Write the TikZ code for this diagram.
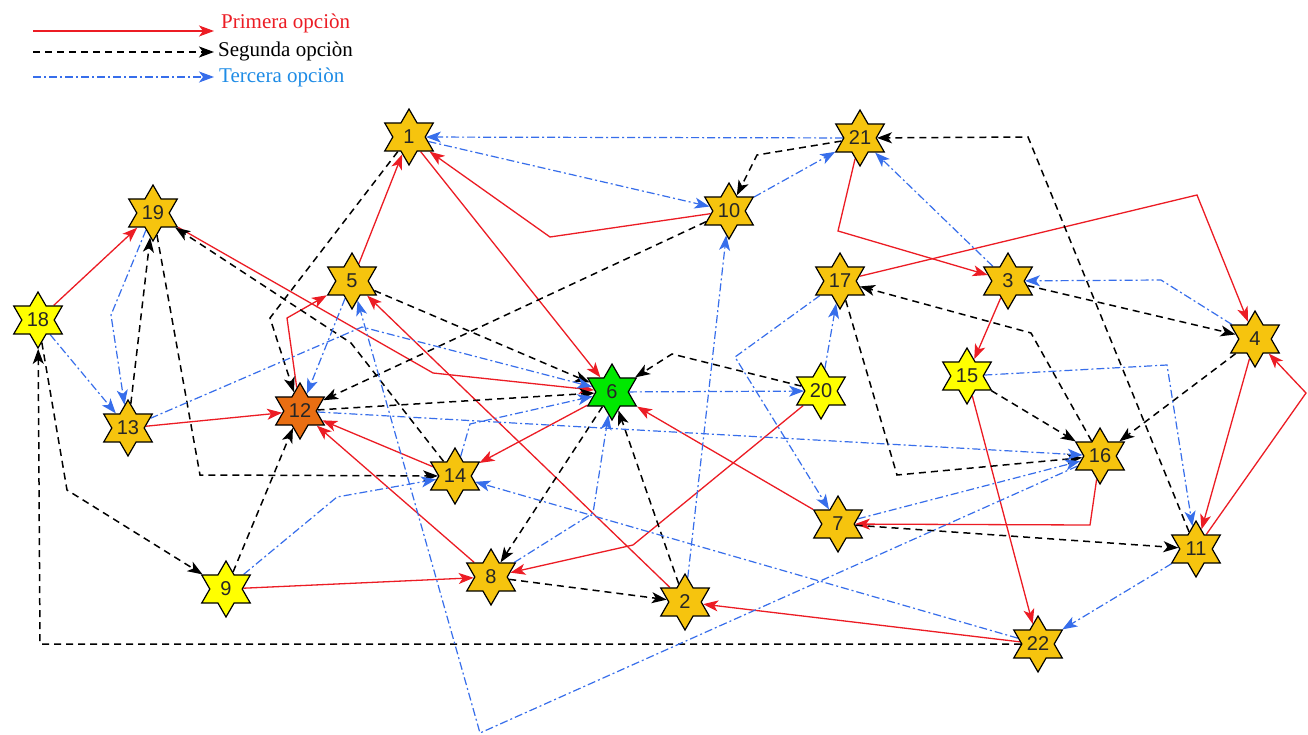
\documentclass[tikz,border=0pt]{standalone}
\usepackage{fontspec}
\setmainfont{Liberation Serif}
\newfontfamily\nodefont{Liberation Sans}
\usetikzlibrary{shapes.geometric,arrows.meta,backgrounds}
\definecolor{gold}{RGB}{246,196,14}
\definecolor{brightyel}{RGB}{255,255,0}
\definecolor{orng}{RGB}{233,110,18}
\definecolor{grn}{RGB}{0,232,0}
\definecolor{lred}{RGB}{236,28,36}
\definecolor{lblue}{RGB}{55,110,235}
\definecolor{tblue}{RGB}{30,140,230}
\tikzset{
  sn/.style={star, star points=6, star point ratio=1.73, draw=black, line width=1.2pt,
    minimum size=56pt, inner sep=0pt, font=\nodefont\fontsize{20}{24}\selectfont, text=black!85},
  sgold/.style={sn, fill=gold},
  syel/.style={sn, fill=brightyel},
  sorg/.style={sn, fill=orng},
  sgrn/.style={sn, fill=grn},
  tip/.style={-{Stealth[length=15pt,width=11pt,inset=4pt]}},
  e1/.style={tip, draw=lred, line width=1.3pt},
  e2/.style={tip, draw=black, line width=1.5pt, dash pattern=on 7pt off 5pt},
  e3/.style={tip, draw=lblue, line width=1.2pt, dash pattern=on 8pt off 3pt on 2pt off 3pt},
  lg/.style={anchor=west, inner sep=0pt, font=\fontsize{21}{25}\selectfont}
}
\begin{document}
\begin{tikzpicture}[x=1pt,y=-1pt]
\useasboundingbox (0,0) rectangle (1308,735);
% legend
\coordinate (la1) at (33,31); \coordinate (lb1) at (214,31);
\coordinate (la2) at (33,52); \coordinate (lb2) at (214,52);
\coordinate (la3) at (33,77); \coordinate (lb3) at (214,77);
\node[lg, text=lred] (t1) at (221,23) {Primera opciòn};
\node[lg, text=black] (t2) at (218,51) {Segunda opciòn};
\node[lg, text=tblue] (t3) at (219,77) {Tercera opciòn};
% nodes
\node[sgold] (n1) at (409,137) {1};
\node[sgold] (n19) at (153,213) {19};
\node[syel] (n18) at (38,320) {18};
\node[sgold] (n13) at (128,428) {13};
\node[sorg] (n12) at (300,411) {12};
\node[sgold] (n5) at (352,281) {5};
\node[sgrn] (n6) at (612,392) {6};
\node[sgold] (n10) at (729,211) {10};
\node[sgold] (n21) at (860,138) {21};
\node[sgold] (n17) at (840,281) {17};
\node[sgold] (n3) at (1008,281) {3};
\node[sgold] (n4) at (1255,339) {4};
\node[syel] (n15) at (967,376) {15};
\node[syel] (n20) at (821,391) {20};
\node[sgold] (n16) at (1100,456) {16};
\node[sgold] (n7) at (838,524) {7};
\node[sgold] (n11) at (1196,549) {11};
\node[sgold] (n22) at (1038,644) {22};
\node[sgold] (n14) at (455,476) {14};
\node[sgold] (n8) at (491,577) {8};
\node[syel] (n9) at (226,589) {9};
\node[sgold] (n2) at (685,602) {2};
\begin{scope}[on background layer]
\fill[white] (0,0) rectangle (1308,735);
\draw[e1] (la1) -- (lb1);
\draw[e2] (la2) -- (lb2);
\draw[e3] (la3) -- (lb3);
% primera
\draw[e1] (n18) -- (n19);
\draw[e1] (n13) -- (n12);
\draw[e1] (n5) -- (n1);
\draw[e1] (n12) -- (287,318) -- (n5);
\draw[e1] (n1) -- (n6);
\draw[e1] (n10) -- (550,237) -- (n1);
\draw[e1] (n19) -- (433,373) -- (n6);
\draw[e1] (n2) -- (n5);
\draw[e1] (n6) -- (n14);
\draw[e1] (n14) -- (n12);
\draw[e1] (n8) -- (n12);
\draw[e1] (n9) -- (n8);
\draw[e1] (n20) -- (633,545) -- (n8);
\draw[e1] (n7) -- (n6);
\draw[e1] (n22) -- (n2);
\draw[e1] (n16) -- (1090,525) -- (n7);
\draw[e1] (n21) -- (838,231) -- (n3);
\draw[e1] (n17) -- (1197,195) -- (n4);
\draw[e1] (n3) -- (n15);
\draw[e1] (n15) -- (n22);
\draw[e1] (n4) -- (n11);
\draw[e1] (n11) -- (1306,393) -- (n4);
% segunda
\draw[e2] (n21) -- (757,155) -- (n10);
\draw[e2] (n10) -- (n12);
\draw[e2] (n1) -- (270,318) -- (n12);
\draw[e2] (n13) -- (n19);
\draw[e2] (n19) -- (200,475) -- (n14);
\draw[e2] (n14) -- (351,343) -- (n19);
\draw[e2] (n12) -- (n6);
\draw[e2] (n5) -- (n6);
\draw[e2] (n20) -- (672,354) -- (n6);
\draw[e2] (n6) -- (n8);
\draw[e2] (n2) -- (n6);
\draw[e2] (n8) -- (n2);
\draw[e2] (n18) -- (67,490) -- (n9);
\draw[e2] (n22) -- (40,644) -- (n18);
\draw[e2] (n9) -- (n12);
\draw[e2] (n11) -- (1028,137) -- (n21);
\draw[e2] (n16) -- (1031,333) -- (n17);
\draw[e2] (n17) -- (897,475) -- (n16);
\draw[e2] (n15) -- (n16);
\draw[e2] (n4) -- (n16);
\draw[e2] (n3) -- (n4);
\draw[e2] (n7) -- (n11);
% tercera
\draw[e3] (n21) -- (n1);
\draw[e3] (n1) -- (n10);
\draw[e3] (n10) -- (n21);
\draw[e3] (n3) -- (n21);
\draw[e3] (n4) -- (1161,280) -- (n3);
\draw[e3] (n15) -- (1167,365) -- (n11);
\draw[e3] (n11) -- (n22);
\draw[e3] (n22) -- (n14);
\draw[e3] (n12) -- (n16);
\draw[e3] (n6) -- (n20);
\draw[e3] (n20) -- (n17);
\draw[e3] (n17) -- (735,357) -- (n7);
\draw[e3] (n7) -- (n16);
\draw[e3] (n16) -- (480,733) -- (n5);
\draw[e3] (n2) -- (n10);
\draw[e3] (n8) -- (593,513) -- (n6);
\draw[e3] (n14) -- (470,424) -- (n6);
\draw[e3] (n13) -- (362,327) -- (n6);
\draw[e3] (n5) -- (n12);
\draw[e3] (n19) -- (111,315) -- (n13);
\draw[e3] (n18) -- (n13);
\draw[e3] (n9) -- (337,497) -- (n14);
\end{scope}
\end{tikzpicture}
\end{document}
